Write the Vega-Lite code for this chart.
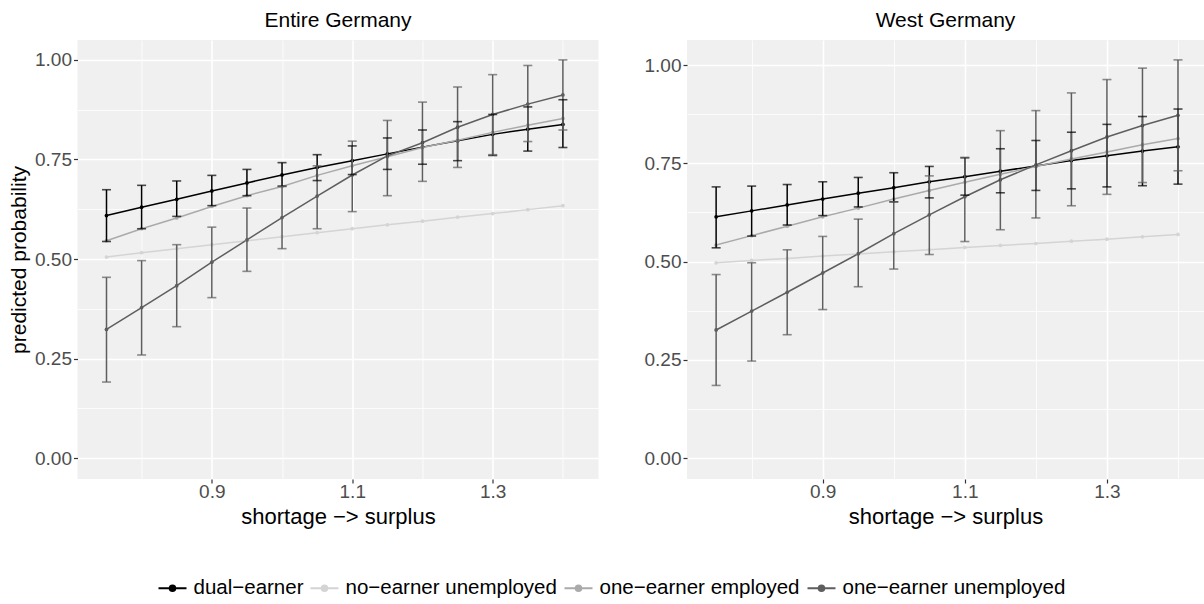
{
"$schema": "https://vega.github.io/schema/vega-lite/v6.json",
"background": "white",
"padding": {"left": 8.5, "top": 10, "right": 0, "bottom": 0},
"datasets": {"d": [
{"panel":"Entire Germany","x":0.75,"g":"dual−earner","p":0.609,"lo":0.544,"hi":0.674},
{"panel":"Entire Germany","x":0.80,"g":"dual−earner","p":0.630,"lo":0.576,"hi":0.685},
{"panel":"Entire Germany","x":0.85,"g":"dual−earner","p":0.650,"lo":0.607,"hi":0.696},
{"panel":"Entire Germany","x":0.90,"g":"dual−earner","p":0.671,"lo":0.634,"hi":0.710},
{"panel":"Entire Germany","x":0.95,"g":"dual−earner","p":0.691,"lo":0.659,"hi":0.725},
{"panel":"Entire Germany","x":1.00,"g":"dual−earner","p":0.711,"lo":0.683,"hi":0.742},
{"panel":"Entire Germany","x":1.05,"g":"dual−earner","p":0.730,"lo":0.697,"hi":0.762},
{"panel":"Entire Germany","x":1.10,"g":"dual−earner","p":0.747,"lo":0.712,"hi":0.784},
{"panel":"Entire Germany","x":1.15,"g":"dual−earner","p":0.764,"lo":0.725,"hi":0.804},
{"panel":"Entire Germany","x":1.20,"g":"dual−earner","p":0.781,"lo":0.738,"hi":0.824},
{"panel":"Entire Germany","x":1.25,"g":"dual−earner","p":0.797,"lo":0.747,"hi":0.845},
{"panel":"Entire Germany","x":1.30,"g":"dual−earner","p":0.813,"lo":0.760,"hi":0.863},
{"panel":"Entire Germany","x":1.35,"g":"dual−earner","p":0.826,"lo":0.771,"hi":0.882},
{"panel":"Entire Germany","x":1.40,"g":"dual−earner","p":0.838,"lo":0.780,"hi":0.900},
{"panel":"Entire Germany","x":0.75,"g":"no−earner unemployed","p":0.505},
{"panel":"Entire Germany","x":0.80,"g":"no−earner unemployed","p":0.516},
{"panel":"Entire Germany","x":0.85,"g":"no−earner unemployed","p":0.526},
{"panel":"Entire Germany","x":0.90,"g":"no−earner unemployed","p":0.536},
{"panel":"Entire Germany","x":0.95,"g":"no−earner unemployed","p":0.546},
{"panel":"Entire Germany","x":1.00,"g":"no−earner unemployed","p":0.556},
{"panel":"Entire Germany","x":1.05,"g":"no−earner unemployed","p":0.566},
{"panel":"Entire Germany","x":1.10,"g":"no−earner unemployed","p":0.576},
{"panel":"Entire Germany","x":1.15,"g":"no−earner unemployed","p":0.586},
{"panel":"Entire Germany","x":1.20,"g":"no−earner unemployed","p":0.595},
{"panel":"Entire Germany","x":1.25,"g":"no−earner unemployed","p":0.605},
{"panel":"Entire Germany","x":1.30,"g":"no−earner unemployed","p":0.614},
{"panel":"Entire Germany","x":1.35,"g":"no−earner unemployed","p":0.624},
{"panel":"Entire Germany","x":1.40,"g":"no−earner unemployed","p":0.634},
{"panel":"Entire Germany","x":0.75,"g":"one−earner employed","p":0.546},
{"panel":"Entire Germany","x":0.80,"g":"one−earner employed","p":0.576},
{"panel":"Entire Germany","x":0.85,"g":"one−earner employed","p":0.603},
{"panel":"Entire Germany","x":0.90,"g":"one−earner employed","p":0.632},
{"panel":"Entire Germany","x":0.95,"g":"one−earner employed","p":0.659},
{"panel":"Entire Germany","x":1.00,"g":"one−earner employed","p":0.682},
{"panel":"Entire Germany","x":1.05,"g":"one−earner employed","p":0.710},
{"panel":"Entire Germany","x":1.10,"g":"one−earner employed","p":0.734},
{"panel":"Entire Germany","x":1.15,"g":"one−earner employed","p":0.757},
{"panel":"Entire Germany","x":1.20,"g":"one−earner employed","p":0.780},
{"panel":"Entire Germany","x":1.25,"g":"one−earner employed","p":0.798},
{"panel":"Entire Germany","x":1.30,"g":"one−earner employed","p":0.818},
{"panel":"Entire Germany","x":1.35,"g":"one−earner employed","p":0.836},
{"panel":"Entire Germany","x":1.40,"g":"one−earner employed","p":0.853},
{"panel":"Entire Germany","x":0.75,"g":"one−earner unemployed","p":0.323,"lo":0.191,"hi":0.454},
{"panel":"Entire Germany","x":0.80,"g":"one−earner unemployed","p":0.378,"lo":0.259,"hi":0.496},
{"panel":"Entire Germany","x":0.85,"g":"one−earner unemployed","p":0.433,"lo":0.330,"hi":0.536},
{"panel":"Entire Germany","x":0.90,"g":"one−earner unemployed","p":0.492,"lo":0.403,"hi":0.580},
{"panel":"Entire Germany","x":0.95,"g":"one−earner unemployed","p":0.548,"lo":0.469,"hi":0.628},
{"panel":"Entire Germany","x":1.00,"g":"one−earner unemployed","p":0.604,"lo":0.526,"hi":0.682},
{"panel":"Entire Germany","x":1.05,"g":"one−earner unemployed","p":0.658,"lo":0.576,"hi":0.734},
{"panel":"Entire Germany","x":1.10,"g":"one−earner unemployed","p":0.711,"lo":0.619,"hi":0.796},
{"panel":"Entire Germany","x":1.15,"g":"one−earner unemployed","p":0.759,"lo":0.659,"hi":0.848},
{"panel":"Entire Germany","x":1.20,"g":"one−earner unemployed","p":0.792,"lo":0.695,"hi":0.894},
{"panel":"Entire Germany","x":1.25,"g":"one−earner unemployed","p":0.831,"lo":0.730,"hi":0.932},
{"panel":"Entire Germany","x":1.30,"g":"one−earner unemployed","p":0.863,"lo":0.762,"hi":0.963},
{"panel":"Entire Germany","x":1.35,"g":"one−earner unemployed","p":0.889,"lo":0.795,"hi":0.986},
{"panel":"Entire Germany","x":1.40,"g":"one−earner unemployed","p":0.912,"lo":0.824,"hi":1.000},
{"panel":"West Germany","x":0.75,"g":"dual−earner","p":0.614,"lo":0.535,"hi":0.690},
{"panel":"West Germany","x":0.80,"g":"dual−earner","p":0.629,"lo":0.565,"hi":0.692},
{"panel":"West Germany","x":0.85,"g":"dual−earner","p":0.644,"lo":0.593,"hi":0.696},
{"panel":"West Germany","x":0.90,"g":"dual−earner","p":0.659,"lo":0.617,"hi":0.703},
{"panel":"West Germany","x":0.95,"g":"dual−earner","p":0.674,"lo":0.639,"hi":0.714},
{"panel":"West Germany","x":1.00,"g":"dual−earner","p":0.688,"lo":0.652,"hi":0.726},
{"panel":"West Germany","x":1.05,"g":"dual−earner","p":0.703,"lo":0.662,"hi":0.742},
{"panel":"West Germany","x":1.10,"g":"dual−earner","p":0.716,"lo":0.669,"hi":0.764},
{"panel":"West Germany","x":1.15,"g":"dual−earner","p":0.730,"lo":0.675,"hi":0.787},
{"panel":"West Germany","x":1.20,"g":"dual−earner","p":0.743,"lo":0.681,"hi":0.808},
{"panel":"West Germany","x":1.25,"g":"dual−earner","p":0.757,"lo":0.685,"hi":0.829},
{"panel":"West Germany","x":1.30,"g":"dual−earner","p":0.769,"lo":0.690,"hi":0.849},
{"panel":"West Germany","x":1.35,"g":"dual−earner","p":0.781,"lo":0.693,"hi":0.869},
{"panel":"West Germany","x":1.40,"g":"dual−earner","p":0.792,"lo":0.697,"hi":0.888},
{"panel":"West Germany","x":0.75,"g":"no−earner unemployed","p":0.497},
{"panel":"West Germany","x":0.80,"g":"no−earner unemployed","p":0.503},
{"panel":"West Germany","x":0.85,"g":"no−earner unemployed","p":0.508},
{"panel":"West Germany","x":0.90,"g":"no−earner unemployed","p":0.514},
{"panel":"West Germany","x":0.95,"g":"no−earner unemployed","p":0.519},
{"panel":"West Germany","x":1.00,"g":"no−earner unemployed","p":0.525},
{"panel":"West Germany","x":1.05,"g":"no−earner unemployed","p":0.530},
{"panel":"West Germany","x":1.10,"g":"no−earner unemployed","p":0.536},
{"panel":"West Germany","x":1.15,"g":"no−earner unemployed","p":0.541},
{"panel":"West Germany","x":1.20,"g":"no−earner unemployed","p":0.546},
{"panel":"West Germany","x":1.25,"g":"no−earner unemployed","p":0.552},
{"panel":"West Germany","x":1.30,"g":"no−earner unemployed","p":0.557},
{"panel":"West Germany","x":1.35,"g":"no−earner unemployed","p":0.563},
{"panel":"West Germany","x":1.40,"g":"no−earner unemployed","p":0.569},
{"panel":"West Germany","x":0.75,"g":"one−earner employed","p":0.542},
{"panel":"West Germany","x":0.80,"g":"one−earner employed","p":0.566},
{"panel":"West Germany","x":0.85,"g":"one−earner employed","p":0.590},
{"panel":"West Germany","x":0.90,"g":"one−earner employed","p":0.614},
{"panel":"West Germany","x":0.95,"g":"one−earner employed","p":0.636},
{"panel":"West Germany","x":1.00,"g":"one−earner employed","p":0.659},
{"panel":"West Germany","x":1.05,"g":"one−earner employed","p":0.681},
{"panel":"West Germany","x":1.10,"g":"one−earner employed","p":0.702},
{"panel":"West Germany","x":1.15,"g":"one−earner employed","p":0.722},
{"panel":"West Germany","x":1.20,"g":"one−earner employed","p":0.742},
{"panel":"West Germany","x":1.25,"g":"one−earner employed","p":0.761},
{"panel":"West Germany","x":1.30,"g":"one−earner employed","p":0.779},
{"panel":"West Germany","x":1.35,"g":"one−earner employed","p":0.797},
{"panel":"West Germany","x":1.40,"g":"one−earner employed","p":0.813},
{"panel":"West Germany","x":0.75,"g":"one−earner unemployed","p":0.326,"lo":0.185,"hi":0.467},
{"panel":"West Germany","x":0.80,"g":"one−earner unemployed","p":0.374,"lo":0.247,"hi":0.497},
{"panel":"West Germany","x":0.85,"g":"one−earner unemployed","p":0.422,"lo":0.314,"hi":0.530},
{"panel":"West Germany","x":0.90,"g":"one−earner unemployed","p":0.471,"lo":0.378,"hi":0.564},
{"panel":"West Germany","x":0.95,"g":"one−earner unemployed","p":0.520,"lo":0.436,"hi":0.608},
{"panel":"West Germany","x":1.00,"g":"one−earner unemployed","p":0.571,"lo":0.481,"hi":0.652},
{"panel":"West Germany","x":1.05,"g":"one−earner unemployed","p":0.619,"lo":0.518,"hi":0.718},
{"panel":"West Germany","x":1.10,"g":"one−earner unemployed","p":0.665,"lo":0.551,"hi":0.765},
{"panel":"West Germany","x":1.15,"g":"one−earner unemployed","p":0.708,"lo":0.581,"hi":0.833},
{"panel":"West Germany","x":1.20,"g":"one−earner unemployed","p":0.746,"lo":0.611,"hi":0.884},
{"panel":"West Germany","x":1.25,"g":"one−earner unemployed","p":0.782,"lo":0.642,"hi":0.929},
{"panel":"West Germany","x":1.30,"g":"one−earner unemployed","p":0.817,"lo":0.671,"hi":0.963},
{"panel":"West Germany","x":1.35,"g":"one−earner unemployed","p":0.846,"lo":0.701,"hi":0.992},
{"panel":"West Germany","x":1.40,"g":"one−earner unemployed","p":0.872,"lo":0.731,"hi":1.013}
]},
"data": {"name": "d"},
"spacing": 45.5,
"resolve": {"scale": {"x": "independent", "y": "independent", "color": "shared"}, "legend": {"color": "shared"}},
"hconcat": [
{
 "width": 521, "height": 439,
 "title": "Entire Germany",
 "transform": [{"filter": "datum.panel == 'Entire Germany'"}],
 "encoding": {
  "x": {"field": "x", "type": "quantitative", "scale": {"domain": [0.7087, 1.4507], "nice": false, "zero": false},
        "axis": {"title": "shortage −> surplus", "values": [0.8, 0.9, 1.0, 1.1, 1.2, 1.3, 1.4],
                 "labelExpr": "round(datum.value*10)%2==1 ? format(datum.value,'.1f') : ''",
                 "gridWidth": {"condition": {"test": "round(datum.value*10)%2==1", "value": 1.6}, "value": 0.8},
                 "tickOpacity": {"condition": {"test": "round(datum.value*10)%2==1", "value": 1}, "value": 0}}},
  "color": {"field": "g", "type": "nominal",
            "scale": {"domain": ["dual−earner", "no−earner unemployed", "one−earner employed", "one−earner unemployed"],
                      "range": ["#000000", "#D4D4D4", "#AAAAAA", "#5E5E5E"]},
            "legend": {"orient": "none", "legendX": 80, "legendY": 533, "direction": "horizontal", "title": null,
                       "symbolType": "M-1,0L1,0M-0.2,0A0.2,0.2,0,1,1,0.2,0A0.2,0.2,0,1,1,-0.2,0Z",
                       "encode": {"symbols": {"update": {"stroke": {"scale": "color", "field": "value"}, "fill": {"scale": "color", "field": "value"}, "strokeWidth": {"value": 2}}}}}}
 },
 "layer": [
  {"mark": {"type": "line", "strokeWidth": 1.5},
   "encoding": {"y": {"field": "p", "type": "quantitative", "scale": {"domain": [-0.0525, 1.05], "nice": false, "zero": false},
     "axis": {"title": "predicted probability", "values": [0, 0.125, 0.25, 0.375, 0.5, 0.625, 0.75, 0.875, 1.0],
              "labelExpr": "round(datum.value*8)%2==0 ? format(datum.value,'.2f') : ''",
              "gridWidth": {"condition": {"test": "round(datum.value*8)%2==0", "value": 1.6}, "value": 0.8},
              "tickOpacity": {"condition": {"test": "round(datum.value*8)%2==0", "value": 1}, "value": 0}}}}},
  {"mark": {"type": "circle", "size": 14, "opacity": 1},
   "encoding": {"y": {"field": "p", "type": "quantitative"}}},
  {"transform": [{"filter": "isValid(datum.lo)"}],
   "mark": {"type": "rule", "strokeWidth": 1.5},
   "encoding": {"y": {"field": "lo", "type": "quantitative"}, "y2": {"field": "hi"}}},
  {"transform": [{"filter": "isValid(datum.lo)"}],
   "mark": {"type": "tick", "orient": "horizontal", "size": 9, "thickness": 1.6},
   "encoding": {"y": {"field": "lo", "type": "quantitative"}}},
  {"transform": [{"filter": "isValid(datum.lo)"}],
   "mark": {"type": "tick", "orient": "horizontal", "size": 9, "thickness": 1.6},
   "encoding": {"y": {"field": "hi", "type": "quantitative"}}}
 ]
},
{
 "width": 517, "height": 439,
 "title": "West Germany",
 "transform": [{"filter": "datum.panel == 'West Germany'"}],
 "encoding": {
  "x": {"field": "x", "type": "quantitative", "scale": {"domain": [0.709, 1.4366], "nice": false, "zero": false},
        "axis": {"title": "shortage −> surplus", "values": [0.8, 0.9, 1.0, 1.1, 1.2, 1.3, 1.4],
                 "labelExpr": "round(datum.value*10)%2==1 ? format(datum.value,'.1f') : ''",
                 "gridWidth": {"condition": {"test": "round(datum.value*10)%2==1", "value": 1.6}, "value": 0.8},
                 "tickOpacity": {"condition": {"test": "round(datum.value*10)%2==1", "value": 1}, "value": 0}}},
  "color": {"field": "g", "type": "nominal"}
 },
 "layer": [
  {"mark": {"type": "line", "strokeWidth": 1.5},
   "encoding": {"y": {"field": "p", "type": "quantitative", "scale": {"domain": [-0.053, 1.0636], "nice": false, "zero": false},
     "axis": {"title": null, "values": [0, 0.125, 0.25, 0.375, 0.5, 0.625, 0.75, 0.875, 1.0],
              "labelExpr": "round(datum.value*8)%2==0 ? format(datum.value,'.2f') : ''",
              "gridWidth": {"condition": {"test": "round(datum.value*8)%2==0", "value": 1.6}, "value": 0.8},
              "tickOpacity": {"condition": {"test": "round(datum.value*8)%2==0", "value": 1}, "value": 0}}}}},
  {"mark": {"type": "circle", "size": 14, "opacity": 1},
   "encoding": {"y": {"field": "p", "type": "quantitative"}}},
  {"transform": [{"filter": "isValid(datum.lo)"}],
   "mark": {"type": "rule", "strokeWidth": 1.5},
   "encoding": {"y": {"field": "lo", "type": "quantitative"}, "y2": {"field": "hi"}}},
  {"transform": [{"filter": "isValid(datum.lo)"}],
   "mark": {"type": "tick", "orient": "horizontal", "size": 9, "thickness": 1.6},
   "encoding": {"y": {"field": "lo", "type": "quantitative"}}},
  {"transform": [{"filter": "isValid(datum.lo)"}],
   "mark": {"type": "tick", "orient": "horizontal", "size": 9, "thickness": 1.6},
   "encoding": {"y": {"field": "hi", "type": "quantitative"}}}
 ]
}
],
"config": {
 "font": "Liberation Sans",
 "view": {"stroke": null, "fill": "#F0F0F0"},
 "title": {"fontSize": 21, "fontWeight": "normal", "color": "#000000", "offset": 9, "anchor": "middle"},
 "axis": {"domain": false, "gridColor": "#FFFFFF", "tickColor": "#333333", "tickSize": 4, "tickWidth": 1.2,
          "labelColor": "#4D4D4D", "labelFontSize": 19, "labelPadding": 2, "labelOverlap": false,
          "titleFontSize": 21, "titleFontWeight": "normal", "titleColor": "#000000", "titlePadding": 5},
 "axisX": {"labelPadding": -1, "titlePadding": 5, "titleFontSize": 22},
 "legend": {"labelFontSize": 20.5, "labelColor": "#000000", "labelLimit": 400, "symbolSize": 784, "symbolStrokeWidth": 2,
            "columnPadding": 3, "labelOffset": 6}
}
}
